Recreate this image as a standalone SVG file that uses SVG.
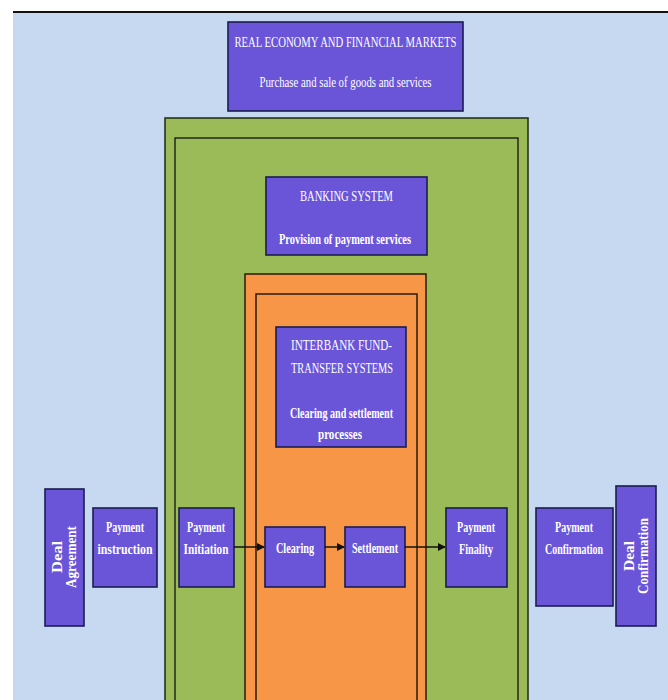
<svg xmlns="http://www.w3.org/2000/svg" width="668" height="700" viewBox="0 0 668 700">
<defs>
<style>
.bg{fill:#c6d9f1}
.box{fill:#6a55d8;stroke:#1c1c50;stroke-width:1.6}
.green{fill:#9bbb59;stroke:#1e2a10;stroke-width:1.5}
.ginner{fill:none;stroke:#111;stroke-width:1.3}
.orange{fill:#f79646;stroke:#2a1a10;stroke-width:1.5}
.t{fill:#fff;font-family:"Liberation Serif",serif;font-size:14.5px;text-anchor:middle}
.b{font-weight:bold}
.c{stroke:#111;stroke-width:1.5;fill:none;marker-end:url(#ah)}
</style>
<marker id="ah" markerWidth="8" markerHeight="8" refX="7" refY="4" orient="auto" markerUnits="userSpaceOnUse">
<path d="M0,0 L8,4 L0,8 z" fill="#111"/>
</marker>
</defs>
<rect x="0" y="0" width="668" height="700" fill="#fff"/>
<rect class="bg" x="13" y="12" width="655" height="688"/>
<line x1="13" y1="12" x2="668" y2="12" stroke="#111" stroke-width="2"/>

<g id="top">
<rect class="box" x="228" y="22" width="235" height="89"/>
<text class="t" x="345.5" y="47" textLength="222" lengthAdjust="spacingAndGlyphs">REAL ECONOMY AND FINANCIAL MARKETS</text>
<text class="t" x="345.5" y="87" textLength="172" lengthAdjust="spacingAndGlyphs">Purchase and sale of goods and services</text>
</g>

<g id="banking-area">
<rect class="green" x="165" y="118" width="363" height="590"/>
<rect class="ginner" x="175" y="138" width="343" height="570"/>
</g>
<g id="banking">
<rect class="box" x="266" y="177" width="161" height="78"/>
<text class="t" x="346.5" y="201" textLength="93" lengthAdjust="spacingAndGlyphs">BANKING SYSTEM</text>
<text class="t b" x="345" y="244" textLength="132" lengthAdjust="spacingAndGlyphs">Provision of payment services</text>
</g>

<g id="interbank-area">
<rect class="orange" x="245" y="274" width="181" height="434"/>
<rect class="orange" x="256" y="294" width="161" height="414" fill="none"/>
</g>
<g id="interbank">
<rect class="box" x="276" y="327" width="130" height="120"/>
<text class="t" x="341.5" y="350" textLength="101" lengthAdjust="spacingAndGlyphs">INTERBANK FUND-</text>
<text class="t" x="342" y="373" textLength="102" lengthAdjust="spacingAndGlyphs">TRANSFER SYSTEMS</text>
<text class="t b" x="341.5" y="418" textLength="103" lengthAdjust="spacingAndGlyphs">Clearing and settlement</text>
<text class="t b" x="340" y="439" font-size="12" textLength="44" lengthAdjust="spacingAndGlyphs">processes</text>
</g>

<g id="deal-agreement">
<rect class="box" x="45" y="489" width="39" height="137"/>
<text class="t b" transform="translate(62,557) rotate(-90)" textLength="32" lengthAdjust="spacingAndGlyphs">Deal</text>
<text class="t b" transform="translate(76,557) rotate(-90)" textLength="62" lengthAdjust="spacingAndGlyphs">Agreement</text>
</g>
<g id="payment-instruction">
<rect class="box" x="93" y="508" width="64" height="79"/>
<text class="t b" x="125" y="532" textLength="38" lengthAdjust="spacingAndGlyphs">Payment</text>
<text class="t b" x="125" y="554" textLength="55" lengthAdjust="spacingAndGlyphs">instruction</text>
</g>
<g id="payment-initiation">
<rect class="box" x="179" y="508" width="55" height="79"/>
<text class="t b" x="206" y="532" textLength="38" lengthAdjust="spacingAndGlyphs">Payment</text>
<text class="t b" x="206" y="554" textLength="45" lengthAdjust="spacingAndGlyphs">Initiation</text>
</g>
<g id="clearing">
<rect class="box" x="265" y="527" width="60" height="60"/>
<text class="t b" x="295" y="553" textLength="38" lengthAdjust="spacingAndGlyphs">Clearing</text>
</g>
<g id="settlement">
<rect class="box" x="345" y="527" width="60" height="60"/>
<text class="t b" x="375" y="553" textLength="46" lengthAdjust="spacingAndGlyphs">Settlement</text>
</g>
<g id="payment-finality">
<rect class="box" x="446" y="508" width="61" height="79"/>
<text class="t b" x="476" y="532" textLength="38" lengthAdjust="spacingAndGlyphs">Payment</text>
<text class="t b" x="476" y="554" textLength="34" lengthAdjust="spacingAndGlyphs">Finality</text>
</g>
<g id="payment-confirmation">
<rect class="box" x="536" y="508" width="77" height="98"/>
<text class="t b" x="574" y="532" textLength="38" lengthAdjust="spacingAndGlyphs">Payment</text>
<text class="t b" x="574" y="554" textLength="58" lengthAdjust="spacingAndGlyphs">Confirmation</text>
</g>
<g id="deal-confirmation">
<rect class="box" x="616" y="486" width="40" height="140"/>
<text class="t b" transform="translate(634,556) rotate(-90)" textLength="30" lengthAdjust="spacingAndGlyphs">Deal</text>
<text class="t b" transform="translate(648,556) rotate(-90)" textLength="76" lengthAdjust="spacingAndGlyphs">Confirmation</text>
</g>

<g id="connectors">
<line class="c" x1="234" y1="547" x2="264" y2="547"/>
<line class="c" x1="325" y1="547" x2="344" y2="547"/>
<line class="c" x1="405" y1="547" x2="445" y2="547"/>
</g>
</svg>
